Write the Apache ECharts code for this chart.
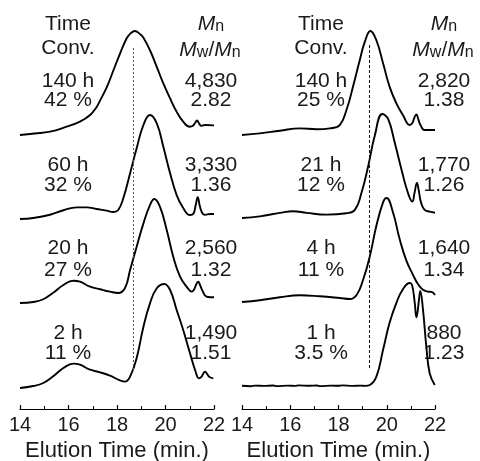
<!DOCTYPE html>
<html>
<head>
<meta charset="utf-8">
<script src="https://cdn.jsdelivr.net/npm/echarts@6/dist/echarts.min.js"></script>
<style>html,body{margin:0;padding:0;background:#fff;}#c{width:480px;height:461px;}</style>
</head>
<body>
<div id="c"></div>
<script>
// ---------- data ----------
// Left panel (relative RI intensity, main peak = 100)
const left140h = [[14.0,0],[14.6,1.4],[15.24,3.2],[15.92,8],[16.47,12.8],[16.89,19.2],[17.16,27],[17.30,33],[17.58,46],[17.85,62],[18.12,78],[18.4,93],[18.55,97.5],[18.74,100],[18.95,97],[19.09,93.5],[19.36,81.5],[19.64,65.5],[19.91,49.6],[20.19,35.2],[20.46,22.3],[20.73,12.8],[21.0,8],[21.12,8.6],[21.22,11.5],[21.3,14],[21.38,11.2],[21.48,8.8],[21.63,9.6],[22.0,9.3]];
const left60h = [[14.0,0],[14.55,1],[15.24,4.1],[15.79,8.4],[16.34,11.2],[16.75,11.2],[17.16,9.6],[17.57,8],[17.85,6.7],[18.05,8.7],[18.26,20],[18.54,44],[18.81,68],[19.09,90.4],[19.36,100],[19.64,92],[19.91,69.5],[20.19,44],[20.46,23],[20.73,10.6],[21.01,3.8],[21.15,5],[21.25,14],[21.33,21],[21.41,13],[21.52,5.5],[21.63,4],[21.84,4.8],[22.0,4.8]];
const left20h = [[14.0,0],[14.55,1],[14.96,3.6],[15.37,9.9],[15.79,17.3],[16.2,21.4],[16.47,20.5],[16.89,15.7],[17.3,13.2],[17.71,10.9],[18.05,9.6],[18.33,14.4],[18.54,31.7],[18.81,54.1],[19.09,76.6],[19.36,94.2],[19.54,100],[19.77,92.6],[20.05,70.2],[20.32,44.5],[20.6,25.3],[20.87,15.7],[21.08,10.9],[21.18,13],[21.27,18],[21.35,20.5],[21.43,17],[21.52,12],[21.7,6],[22.0,5.5]];
const left2h = [[14.0,0],[14.55,1.9],[14.96,4.8],[15.37,11.3],[15.79,19.2],[16.2,23.4],[16.47,22.4],[16.89,17.6],[17.3,15.1],[17.71,11.8],[18.12,7.4],[18.33,6.1],[18.54,10.9],[18.81,28.8],[19.09,58.9],[19.36,81.4],[19.64,95.9],[19.95,100],[20.19,94.2],[20.46,75],[20.73,55.8],[21.01,33.4],[21.22,17.3],[21.38,9.3],[21.49,11],[21.57,14.5],[21.63,15.7],[21.7,14],[21.8,10.9],[21.97,9.3]];
// Right panel
const right140h = [[14.0,0],[14.74,1.6],[15.57,4.1],[16.4,6.4],[17.09,5.5],[17.64,6.4],[18.05,9.6],[18.33,24],[18.6,46.3],[18.88,71.9],[19.09,89.5],[19.32,100],[19.57,91.1],[19.85,68.7],[20.12,46.3],[20.4,30.4],[20.67,19.2],[20.95,9.6],[21.06,11.5],[21.15,17],[21.23,19.8],[21.31,15],[21.4,9.6],[21.57,4.8],[22.0,4.8]];
const right21h = [[14.0,0],[14.74,1.6],[15.57,4.9],[16.12,6.5],[16.68,4.9],[17.5,3.2],[18.33,4.6],[18.68,7.8],[18.95,24],[19.23,49.8],[19.5,78.9],[19.82,100],[20.06,95.1],[20.33,72.5],[20.61,46.6],[20.88,24],[21.06,15.8],[21.15,24],[21.25,33.7],[21.33,26],[21.42,15],[21.57,7.8],[21.78,6.1],[22.0,5.1]];
const right4h = [[14.0,0],[14.74,1.7],[15.57,4.6],[16.4,6.5],[17.23,5.5],[18.05,3.9],[18.47,2.9],[18.75,6.8],[19.02,21.4],[19.3,44.1],[19.57,73.3],[19.85,96.1],[19.99,100],[20.26,86],[20.54,60],[20.81,40],[21.09,26],[21.3,17],[21.5,11.7],[21.71,10],[21.85,9.7],[22.0,6.8]];
const right1h = [[14.0,0.2],[14.35,-0.2],[14.55,0.4],[14.9,0.1],[15.3,0.5],[15.45,-0.1],[15.9,0.4],[16.2,0.1],[16.35,0.6],[16.8,0.2],[17.1,0.5],[17.25,-0.1],[17.7,0.4],[18.0,0.2],[18.15,0.6],[18.6,0.1],[18.9,0.4],[19.1,0.1],[19.3,1],[19.57,9],[19.85,35],[20.12,61],[20.4,80],[20.67,93],[20.95,99],[21.05,97],[21.16,80],[21.23,66],[21.34,83.5],[21.39,91.5],[21.5,74],[21.64,38],[21.78,12.3],[21.99,1]];

const leftTimes = ['140 h','60 h','20 h','2 h'];
const leftConv = ['42 %','32 %','27 %','11 %'];
const leftMn = ['4,830','3,330','2,560','1,490'];
const leftPdi = ['2.82','1.36','1.32','1.51'];
const rightTimes = ['140 h','21 h','4 h','1 h'];
const rightConv = ['25 %','12 %','11 %','3.5 %'];
const rightMn = ['2,820','1,770','1,640','880'];
const rightPdi = ['1.38','1.26','1.34','1.23'];
const refTimes = [18.69, 19.28];   // dotted reference lines (min)
const xMin = 14, xMax = 22, xStep = 2;
const axisTitle = 'Elution Time (min.)';

// ---------- layout ----------
const FONT = '"Liberation Sans", Arial, Helvetica, sans-serif';
const TXT = '#1a1a1a';
const FS = 21;
const leftOffsets = [274, 190, 106, 21];
const rightOffsets = [274, 191, 107, 23];
const SCALE = 1.04;
const rowY = [[81, 100.5], [165.5, 185.5], [248.5, 270], [333, 353]];

const chart = echarts.init(document.getElementById('c'), null, {renderer: 'canvas'});

function lineSeries(data, off, gi) {
  return {
    type: 'line', xAxisIndex: gi, yAxisIndex: gi,
    data: data.map(p => [p[0], off + p[1] * SCALE]),
    showSymbol: false, symbol: 'none', smooth: 0.45,
    lineStyle: {color: '#000', width: 1.9}, silent: true, animation: false
  };
}
function refLine(t, gi, y0, y1, color, dash) {
  return {
    type: 'line', xAxisIndex: gi, yAxisIndex: gi, data: [], silent: true, animation: false,
    markLine: {silent: true, symbol: 'none', label: {show: false}, animation: false,
      lineStyle: {color: color, width: 1, type: dash},
      data: [[{coord: [t, y0]}, {coord: [t, y1]}]]}
  };
}
function xAxisCfg(gi) {
  return {
    gridIndex: gi, type: 'value', min: xMin, max: xMax, interval: xStep,
    axisLine: {show: true, onZero: false, lineStyle: {color: '#000', width: 1.2}},
    axisTick: {show: true, inside: true, length: 4, lineStyle: {color: '#000', width: 1.2}},
    minorTick: {show: true, splitNumber: 2, length: 3, lineStyle: {color: '#000', width: 1}},
    splitLine: {show: false}, minorSplitLine: {show: false},
    axisLabel: {fontSize: 20, color: TXT, fontFamily: FONT, margin: 6},
    name: axisTitle, nameLocation: 'middle', nameGap: 28,
    nameTextStyle: {fontSize: 22, color: TXT, fontFamily: FONT}
  };
}

const series = [];
[left140h, left60h, left20h, left2h].forEach((d, i) => series.push(lineSeries(d, leftOffsets[i], 0)));
[right140h, right21h, right4h, right1h].forEach((d, i) => series.push(lineSeries(d, rightOffsets[i], 1)));
series.push(refLine(refTimes[0], 0, 39, 362, '#555', [2, 2]));
series.push(refLine(refTimes[1], 1, 41, 366, '#111', [3, 2]));

const rich = {
  i: {fontStyle: 'italic', fontSize: FS, fontFamily: FONT, fill: TXT, lineHeight: 22},
  s: {fontSize: 16, fontFamily: FONT, fill: TXT, lineHeight: 15, verticalAlign: 'bottom'},
  r: {fontSize: FS, fontFamily: FONT, fill: TXT, lineHeight: 22}
};
function txt(x, y, s) {
  return {type: 'text', x: x, y: y, silent: true,
    style: {text: s, fontSize: FS, fontFamily: FONT, fill: TXT, align: 'center', verticalAlign: 'middle'}};
}
function richTxt(x, y, s) {
  return {type: 'text', x: x, y: y, silent: true,
    style: {text: s, rich: rich, fontSize: FS, fontFamily: FONT, fill: TXT, align: 'center', verticalAlign: 'middle'}};
}
const graphics = [];
const cols = [
  {tx: 68, vx: 211, times: leftTimes, conv: leftConv, mn: leftMn, pdi: leftPdi},
  {tx: 321, vx: 444, times: rightTimes, conv: rightConv, mn: rightMn, pdi: rightPdi}
];
cols.forEach(c => {
  graphics.push(txt(c.tx, 24, 'Time'));
  graphics.push(txt(c.tx, 48, 'Conv.'));
  graphics.push(richTxt(c.vx, 24, '{i|M}{s|n}'));
  graphics.push(richTxt(c.vx - 1, 50, '{i|M}{s|w}{r|/}{i|M}{s|n}'));
  for (let k = 0; k < 4; k++) {
    graphics.push(txt(c.tx, rowY[k][0], c.times[k]));
    graphics.push(txt(c.tx, rowY[k][1], c.conv[k]));
    graphics.push(txt(c.vx, rowY[k][0], c.mn[k]));
    graphics.push(txt(c.vx, rowY[k][1], c.pdi[k]));
  }
});

chart.setOption({
  animation: false,
  backgroundColor: '#fff',
  grid: [
    {left: 20, width: 194, top: 9, height: 400, containLabel: false, outerBoundsMode: 'none'},
    {left: 242, width: 193, top: 9, height: 400, containLabel: false, outerBoundsMode: 'none'}
  ],
  xAxis: [xAxisCfg(0), xAxisCfg(1)],
  yAxis: [
    {gridIndex: 0, type: 'value', min: 0, max: 400, show: false},
    {gridIndex: 1, type: 'value', min: 0, max: 400, show: false}
  ],
  series: series,
  graphic: graphics
});
</script>
</body>
</html>
